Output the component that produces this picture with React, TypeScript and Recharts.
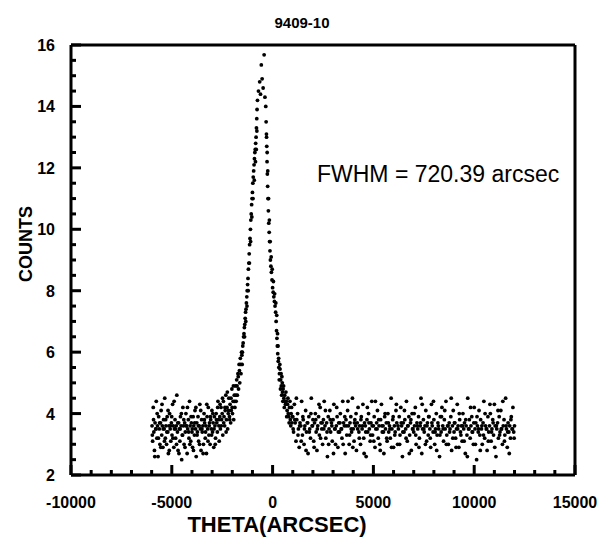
import React from 'react';
import { ScatterChart, Scatter, XAxis, YAxis, ReferenceLine } from 'recharts';

const chartTitle = '9409-10';
const fwhmNote = 'FWHM = 720.39 arcsec';
const xLabel = 'THETA(ARCSEC)';
const yLabel = 'COUNTS';
const xMajorTicks = [-10000, -5000, 0, 5000, 10000, 15000];
const yMajorTicks = [2, 4, 6, 8, 10, 12, 14, 16];
const xMinorTicks = [-9000, -8000, -7000, -6000, -4000, -3000, -2000, -1000, 1000, 2000, 3000, 4000, 6000, 7000, 8000, 9000, 11000, 12000, 13000, 14000];
const yMinorTicks = [2.5, 3, 3.5, 4.5, 5, 5.5, 6.5, 7, 7.5, 8.5, 9, 9.5, 10.5, 11, 11.5, 12.5, 13, 13.5, 14.5, 15, 15.5];

const leftWing: [number, number][] = [
  [-5980, 3.6], [-5950, 3.1], [-5920, 4.2], [-5890, 3.4], [-5860, 2.8], [-5830, 3.7], [-5800, 3.5], [-5770, 4.4], [-5740, 3.2], [-5710, 3.6],
  [-5680, 2.6], [-5650, 3.9], [-5620, 3.5], [-5590, 3.0], [-5560, 3.7], [-5530, 4.1], [-5500, 3.3], [-5470, 3.6], [-5440, 2.9], [-5410, 3.8],
  [-5380, 3.5], [-5350, 4.5], [-5320, 3.2], [-5290, 3.6], [-5260, 3.0], [-5230, 3.9], [-5200, 3.4], [-5170, 2.7], [-5140, 3.6], [-5110, 4.0],
  [-5080, 3.5], [-5050, 3.1], [-5020, 3.7], [-4990, 3.3], [-4960, 4.3], [-4930, 3.6], [-4900, 2.9], [-4870, 3.5], [-4840, 3.8], [-4810, 3.2],
  [-4780, 3.6], [-4750, 4.6], [-4720, 3.4], [-4690, 2.8], [-4660, 3.7], [-4630, 3.5], [-4600, 3.1], [-4570, 3.9], [-4540, 3.6], [-4510, 2.5],
  [-4480, 3.3], [-4450, 4.2], [-4420, 3.6], [-4390, 3.0], [-4360, 3.7], [-4330, 3.4], [-4300, 4.0], [-4270, 3.6], [-4240, 2.7], [-4210, 3.5],
  [-4180, 3.8], [-4150, 3.2], [-4120, 4.4], [-4090, 3.6], [-4060, 3.1], [-4030, 3.7], [-4000, 3.4], [-3970, 2.9], [-3940, 3.9], [-3910, 3.6],
  [-3880, 3.3], [-3850, 4.1], [-3820, 3.5], [-3790, 2.6], [-3760, 3.7], [-3730, 3.4], [-3700, 3.9], [-3670, 3.1], [-3640, 3.6], [-3610, 4.3],
  [-3580, 3.5], [-3550, 2.8], [-3520, 3.8], [-3490, 3.4], [-3460, 3.6], [-3430, 3.0], [-3400, 4.0], [-3370, 3.7], [-3340, 3.2], [-3310, 3.6],
  [-3280, 2.7], [-3250, 3.9], [-3220, 3.5], [-3190, 4.2], [-3160, 3.3], [-3130, 3.7], [-3100, 3.0], [-3070, 3.8], [-3040, 3.5], [-3010, 4.1],
  [-2980, 3.4], [-2950, 3.7], [-2920, 2.9], [-2890, 3.9], [-2860, 3.6], [-2830, 3.2], [-2800, 4.0], [-2770, 3.7], [-2740, 3.4], [-2710, 4.4],
  [-2680, 3.8], [-2650, 3.1],
  [-5965, 3.3], [-5905, 3.8], [-5845, 2.6], [-5785, 3.5], [-5725, 4.0], [-5665, 3.2], [-5605, 3.7], [-5545, 2.9], [-5485, 4.3], [-5425, 3.5],
  [-5365, 3.1], [-5305, 3.8], [-5245, 3.4], [-5185, 4.1], [-5125, 2.8], [-5065, 3.6], [-5005, 3.9], [-4945, 3.2], [-4885, 4.4], [-4825, 3.5],
  [-4765, 3.0], [-4705, 3.7], [-4645, 2.7], [-4585, 3.5], [-4525, 4.0], [-4465, 3.3], [-4405, 3.8], [-4345, 2.9], [-4285, 3.6], [-4225, 4.2],
  [-4165, 3.4], [-4105, 3.0], [-4045, 3.9], [-3985, 3.5], [-3925, 2.8], [-3865, 3.7], [-3805, 4.2], [-3745, 3.3], [-3685, 3.6], [-3625, 3.0],
  [-3565, 4.1], [-3505, 3.5], [-3445, 2.7], [-3385, 3.8], [-3325, 3.4], [-3265, 4.3], [-3205, 3.1], [-3145, 3.6], [-3085, 3.9], [-3025, 3.3],
  [-2965, 4.0], [-2905, 3.5], [-2845, 3.0], [-2785, 3.8], [-2725, 4.2], [-2665, 3.6],
];

const shoulder: [number, number][] = [
  [-2620, 3.9], [-2590, 3.5], [-2560, 4.2], [-2530, 3.8], [-2500, 4.0], [-2470, 3.3], [-2440, 4.4], [-2410, 3.9], [-2380, 3.6], [-2350, 4.1],
  [-2320, 4.6], [-2290, 3.8], [-2260, 4.2], [-2230, 3.5], [-2200, 4.0], [-2170, 4.5], [-2140, 3.9], [-2110, 4.3], [-2080, 3.7], [-2050, 4.1],
  [-2020, 4.8], [-1990, 4.0], [-1960, 4.4], [-1930, 3.8], [-1900, 4.6], [-1870, 4.2], [-1840, 4.9], [-1810, 4.4], [-1780, 5.1], [-1750, 4.6],
  [-1720, 5.3], [-1690, 4.8], [-1660, 5.6], [-1630, 5.0], [-1600, 5.8], [-1570, 5.3], [-1540, 6.0], [-1510, 5.6],
  [-2605, 4.3], [-2545, 3.6], [-2485, 4.5], [-2425, 3.7], [-2365, 4.2], [-2305, 3.4], [-2245, 4.7], [-2185, 4.1], [-2125, 3.8], [-2065, 4.5],
  [-2005, 4.2], [-1945, 4.9], [-1885, 4.4], [-1825, 4.6], [-1765, 4.9], [-1705, 5.2], [-1645, 5.4], [-1585, 5.6], [-1525, 5.9],
];

const peak: [number, number][] = [
  [-1500, 6.0], [-1480, 6.2], [-1460, 6.3], [-1440, 6.5], [-1420, 6.6], [-1400, 6.8], [-1380, 6.9], [-1360, 7.1], [-1340, 7.3], [-1320, 7.4],
  [-1300, 7.6], [-1280, 7.8], [-1260, 8.0], [-1240, 8.2], [-1220, 8.4], [-1200, 8.7], [-1180, 8.9], [-1160, 9.2], [-1140, 9.5], [-1120, 9.7],
  [-1100, 10.0], [-1080, 10.3], [-1060, 10.5], [-1040, 10.8], [-1020, 11.0], [-1000, 11.2], [-980, 11.5], [-960, 11.7], [-940, 11.9], [-920, 12.1],
  [-900, 12.3], [-880, 12.5], [-860, 12.6], [-840, 12.8], [-820, 13.0], [-800, 13.3], [-785, 13.6], [-770, 13.9], [-750, 14.2],
  [-1390, 6.5], [-1330, 7.0], [-1270, 7.5], [-1210, 8.0], [-1150, 8.9], [-1090, 9.6], [-1030, 10.4], [-970, 11.0], [-910, 11.6], [-850, 12.2],
  [-810, 12.6], [-780, 13.2],
  [-700, 14.5], [-640, 14.8], [-600, 14.4], [-560, 15.35], [-520, 14.9], [-470, 14.6], [-420, 15.68], [-380, 14.3], [-340, 14.0],
  [-320, 13.5], [-305, 13.1], [-290, 12.7], [-275, 12.2], [-260, 11.8], [-245, 11.4], [-230, 11.0], [-210, 10.6], [-190, 10.2], [-170, 9.9],
  [-150, 9.6], [-130, 9.3], [-110, 9.0], [-85, 8.8], [-60, 8.6], [-30, 8.35], [0, 8.1], [30, 7.95], [60, 7.8], [90, 7.65],
  [120, 7.5], [150, 7.3], [175, 7.0], [195, 6.7], [215, 6.45], [235, 6.2], [255, 5.95], [280, 5.7], [310, 5.5], [340, 5.3],
  [-300, 13.0], [-270, 12.5], [-240, 11.9], [-200, 11.0], [-160, 10.3], [-120, 9.6], [-70, 9.1], [-20, 8.7], [40, 8.3], [100, 7.9],
  [160, 7.6], [205, 7.2], [245, 6.6], [270, 6.2],
  [370, 5.45], [400, 5.1], [430, 4.9], [460, 5.2], [490, 4.7], [520, 4.8], [560, 4.5], [600, 4.6], [640, 4.3], [680, 4.4],
  [720, 4.1], [760, 4.5], [800, 3.9], [840, 4.2], [880, 3.8], [920, 4.0], [960, 3.7],
  [300, 5.8], [330, 5.1], [360, 5.6], [390, 4.8], [420, 5.3], [450, 4.6], [480, 5.0], [510, 4.4], [545, 4.9], [580, 4.2],
  [620, 4.4], [660, 4.7], [700, 3.9], [740, 4.3], [780, 4.0], [820, 3.7], [860, 4.4], [900, 3.6], [940, 4.2], [980, 3.9],
];

const rightWing: [number, number][] = [
  [1000, 3.9], [1040, 3.4], [1080, 4.3], [1120, 3.7], [1160, 3.1], [1200, 3.8], [1240, 4.0], [1280, 3.5], [1320, 2.9], [1360, 3.7],
  [1400, 3.6], [1440, 4.4], [1480, 3.3], [1520, 3.8], [1560, 3.0], [1600, 3.6], [1640, 4.1], [1680, 3.4], [1720, 3.7], [1760, 2.7],
  [1800, 3.9], [1840, 3.5], [1880, 3.2], [1920, 4.5], [1960, 3.6], [2000, 3.8], [2040, 3.1], [2080, 3.7], [2120, 4.0], [2160, 3.4],
  [2200, 2.8], [2240, 3.6], [2280, 3.9], [2320, 3.3], [2360, 4.2], [2400, 3.7], [2440, 3.5], [2480, 3.0], [2520, 3.8], [2560, 4.4],
  [2600, 3.6], [2640, 3.2], [2680, 3.7], [2720, 2.6], [2760, 3.9], [2800, 3.5], [2840, 4.1], [2880, 3.4], [2920, 3.7], [2960, 3.1],
  [3000, 3.8], [3040, 4.3], [3080, 3.5], [3120, 3.0], [3160, 3.6], [3200, 3.9], [3240, 2.9], [3280, 3.7], [3320, 3.4], [3360, 4.0],
  [3400, 3.5], [3440, 3.2], [3480, 4.4], [3520, 3.7], [3560, 3.6], [3600, 2.7], [3640, 3.8], [3680, 3.3], [3720, 4.1], [3760, 3.6],
  [3800, 3.0], [3840, 3.7], [3880, 3.9], [3920, 3.4], [3960, 4.5], [4000, 3.5], [4040, 3.1], [4080, 3.8], [4120, 3.6], [4160, 2.8],
  [4200, 3.7], [4240, 4.2], [4280, 3.4], [4320, 3.6], [4360, 3.0], [4400, 3.9], [4440, 3.5], [4480, 4.3], [4520, 3.2], [4560, 3.7],
  [4600, 3.6], [4640, 2.6], [4680, 3.8], [4720, 3.4], [4760, 4.0], [4800, 3.5], [4840, 3.1], [4880, 3.7], [4920, 4.4], [4960, 3.3],
  [5000, 3.6], [5040, 3.9], [5080, 2.9], [5120, 3.5], [5160, 3.7], [5200, 4.1], [5240, 3.2], [5280, 3.6], [5320, 3.0], [5360, 3.8],
  [5400, 4.3], [5440, 3.4], [5480, 3.6], [5520, 2.7], [5560, 3.9], [5600, 3.5], [5640, 3.7], [5680, 3.1], [5720, 4.0], [5760, 3.4],
  [5800, 3.6], [5840, 3.2], [5880, 4.5], [5920, 3.5], [5960, 3.8], [6000, 2.9], [6040, 3.6], [6080, 3.4], [6120, 4.1], [6160, 3.7],
  [6200, 3.0], [6240, 3.5], [6280, 3.9], [6320, 3.3], [6360, 4.2], [6400, 3.6], [6440, 2.6], [6480, 3.7], [6520, 3.4], [6560, 3.8],
  [6600, 3.5], [6640, 4.4], [6680, 3.1], [6720, 3.6], [6760, 3.9], [6800, 3.3], [6840, 3.7], [6880, 2.8], [6920, 4.0], [6960, 3.5],
  [7000, 3.4], [7040, 3.6], [7080, 4.2], [7120, 3.0], [7160, 3.7], [7200, 3.5], [7240, 3.9], [7280, 3.2], [7320, 3.6], [7360, 4.5],
  [7400, 2.7], [7440, 3.5], [7480, 3.8], [7520, 3.4], [7560, 3.6], [7600, 4.1], [7640, 3.1], [7680, 3.7], [7720, 3.3], [7760, 3.9],
  [7800, 3.5], [7840, 2.9], [7880, 4.3], [7920, 3.6], [7960, 3.4], [8000, 3.8], [8040, 3.0], [8080, 3.5], [8120, 4.0], [8160, 3.3],
  [8200, 3.7], [8240, 3.5], [8280, 2.6], [8320, 3.9], [8360, 3.4], [8400, 4.2], [8440, 3.6], [8480, 3.1], [8520, 3.8], [8560, 3.5],
  [8600, 4.4], [8640, 3.3], [8680, 3.6], [8720, 3.0], [8760, 3.7], [8800, 3.5], [8840, 3.9], [8880, 2.8], [8920, 3.6], [8960, 4.1],
  [9000, 3.4], [9040, 3.7], [9080, 3.2], [9120, 3.5], [9160, 4.3], [9200, 3.6], [9240, 2.9], [9280, 3.8], [9320, 3.4], [9360, 3.6],
  [9400, 3.1], [9440, 4.0], [9480, 3.5], [9520, 3.7], [9560, 2.7], [9600, 3.6], [9640, 3.3], [9680, 4.5], [9720, 3.5], [9760, 3.8],
  [9800, 3.2], [9840, 3.6], [9880, 3.9], [9920, 3.4], [9960, 3.0], [10000, 4.2], [10040, 3.5], [10080, 3.7], [10120, 2.5], [10160, 3.6],
  [10200, 3.4], [10240, 4.1], [10280, 3.3], [10320, 3.8], [10360, 3.5], [10400, 3.0], [10440, 3.7], [10480, 4.4], [10520, 3.2], [10560, 3.6],
  [10600, 3.5], [10640, 2.8], [10680, 3.9], [10720, 3.4], [10760, 3.6], [10800, 4.0], [10840, 3.1], [10880, 3.5], [10920, 3.8], [10960, 3.3],
  [11000, 4.3], [11040, 3.6], [11080, 2.6], [11120, 3.5], [11160, 3.7], [11200, 3.2], [11240, 3.9], [11280, 3.4], [11320, 4.1], [11360, 3.5],
  [11400, 3.0], [11440, 3.6], [11480, 3.8], [11520, 3.3], [11560, 4.5], [11600, 3.5], [11640, 2.9], [11680, 3.7], [11720, 3.4], [11760, 3.6],
  [11800, 3.2], [11840, 3.9], [11880, 3.5], [11920, 4.2], [11960, 3.4], [12000, 3.6],
  [1020, 3.5], [1100, 3.8], [1180, 4.5], [1260, 3.3], [1340, 3.6], [1420, 3.1], [1500, 3.9], [1580, 3.5], [1660, 2.8], [1740, 3.7],
  [1820, 3.4], [1900, 4.0], [1980, 3.6], [2060, 2.9], [2140, 3.8], [2220, 3.5], [2300, 4.3], [2380, 3.2], [2460, 3.7], [2540, 3.5],
  [2620, 4.1], [2700, 3.4], [2780, 3.0], [2860, 3.8], [2940, 3.6], [3020, 2.7], [3100, 3.5], [3180, 4.2], [3260, 3.4], [3340, 3.7],
  [3420, 3.5], [3500, 3.0], [3580, 3.9], [3660, 3.6], [3740, 4.4], [3820, 3.3], [3900, 3.5], [3980, 2.9], [4060, 3.7], [4140, 4.0],
  [4220, 3.5], [4300, 3.2], [4380, 3.8], [4460, 3.6], [4540, 2.7], [4620, 3.4], [4700, 4.2], [4780, 3.7], [4860, 3.3], [4940, 3.6],
  [5020, 3.1], [5100, 4.4], [5180, 3.5], [5260, 3.8], [5340, 2.8], [5420, 3.6], [5500, 3.4], [5580, 4.0], [5660, 3.2], [5740, 3.7],
  [5820, 3.5], [5900, 2.9], [5980, 3.9], [6060, 3.3], [6140, 4.3], [6220, 3.6], [6300, 3.0], [6380, 3.7], [6460, 3.4], [6540, 4.1],
  [6620, 3.2], [6700, 3.6], [6780, 2.7], [6860, 3.8], [6940, 3.5], [7020, 4.0], [7100, 3.3], [7180, 3.6], [7260, 2.9], [7340, 3.7],
  [7420, 4.3], [7500, 3.5], [7580, 3.0], [7660, 3.6], [7740, 3.9], [7820, 3.2], [7900, 3.7], [7980, 4.4], [8060, 3.4], [8140, 2.8],
  [8220, 3.6], [8300, 3.3], [8380, 3.9], [8460, 3.5], [8540, 4.1], [8620, 3.0], [8700, 3.6], [8780, 3.4], [8860, 4.5], [8940, 3.2],
  [9020, 3.7], [9100, 2.9], [9180, 3.5], [9260, 4.0], [9340, 3.3], [9420, 3.6], [9500, 3.1], [9580, 3.8], [9660, 2.6], [9740, 3.5],
  [9820, 4.2], [9900, 3.4], [9980, 3.7], [10060, 3.0], [10140, 3.9], [10220, 3.5], [10300, 2.8], [10380, 3.6], [10460, 3.3], [10540, 4.0],
  [10620, 3.5], [10700, 3.1], [10780, 4.3], [10860, 3.4], [10940, 3.7], [11020, 2.9], [11100, 3.6], [11180, 4.1], [11260, 3.3], [11340, 3.5],
  [11420, 4.4], [11500, 3.1], [11580, 3.6], [11660, 3.4], [11740, 2.7], [11820, 3.8], [11900, 3.5], [11980, 3.2],
];

const points = [...leftWing, ...shoulder, ...peak, ...rightWing].map(([theta, counts]) => ({ theta, counts }));

// anchor points for the inward tick marks, placed on the axes through the chart's scales
const xMajorMarks = xMajorTicks.map((theta) => ({ theta, counts: 2 }));
const xMinorMarks = xMinorTicks.map((theta) => ({ theta, counts: 2 }));
const yMajorMarks = yMajorTicks.map((counts) => ({ theta: -10000, counts }));
const yMinorMarks = yMinorTicks.map((counts) => ({ theta: -10000, counts }));

const FONT = '"Liberation Sans", Arial, Helvetica, sans-serif';

const XLabelTick = (props: any) => {
  const { x, y, payload } = props;
  return (
    <text x={x} y={y + 33} textAnchor="middle" fontFamily={FONT} fontWeight="bold" fontSize={16} fill="#000">
      {String(payload.value)}
    </text>
  );
};

const YLabelTick = (props: any) => {
  const { x, y, payload } = props;
  return (
    <text x={x - 16} y={y + 6} textAnchor="end" fontFamily={FONT} fontWeight="bold" fontSize={16} fill="#000">
      {String(payload.value)}
    </text>
  );
};

const Dot = (props: any) => <circle cx={props.cx} cy={props.cy} r={1.9} fill="#000" />;
const XMajorMark = (props: any) => <rect x={props.cx - 1.5} y={props.cy - 10} width={3} height={10} fill="#000" />;
const XMinorMark = (props: any) => <rect x={props.cx - 1.5} y={props.cy - 5} width={3} height={5} fill="#000" />;
const YMajorMark = (props: any) => <rect x={props.cx} y={props.cy - 1.5} width={10} height={3} fill="#000" />;
const YMinorMark = (props: any) => <rect x={props.cx} y={props.cy - 1.5} width={5} height={3} fill="#000" />;

export default function App() {
  return (
    <div style={{ position: 'absolute', left: 0, top: 0, width: 600, height: 542, background: '#fff' }}>
      <ScatterChart width={600} height={542} margin={{ top: 45, right: 25, bottom: 37, left: 0 }}>
        <XAxis
          type="number"
          dataKey="theta"
          domain={[-10000, 15000]}
          ticks={xMajorTicks}
          interval={0}
          height={30}
          tick={<XLabelTick />}
          tickSize={0}
          tickMargin={0}
          tickLine={false}
          axisLine={false}
        />
        <YAxis
          type="number"
          dataKey="counts"
          domain={[2, 16]}
          ticks={yMajorTicks}
          interval={0}
          width={71}
          tick={<YLabelTick />}
          tickSize={0}
          tickMargin={0}
          tickLine={false}
          axisLine={false}
        />
        <ReferenceLine y={2} stroke="#000" strokeWidth={3} ifOverflow="visible" />
        <ReferenceLine y={16} stroke="#000" strokeWidth={3} ifOverflow="visible" />
        <ReferenceLine x={-10000} stroke="#000" strokeWidth={3} ifOverflow="visible" />
        <ReferenceLine x={15000} stroke="#000" strokeWidth={3} ifOverflow="visible" />
        <Scatter data={xMajorMarks} shape={<XMajorMark />} isAnimationActive={false} />
        <Scatter data={xMinorMarks} shape={<XMinorMark />} isAnimationActive={false} />
        <Scatter data={yMajorMarks} shape={<YMajorMark />} isAnimationActive={false} />
        <Scatter data={yMinorMarks} shape={<YMinorMark />} isAnimationActive={false} />
        <Scatter data={points} shape={<Dot />} isAnimationActive={false} />
      </ScatterChart>
      <svg width={600} height={542} style={{ position: 'absolute', left: 0, top: 0, pointerEvents: 'none' }}>
        <text x={302} y={28} textAnchor="middle" fontFamily={FONT} fontWeight="bold" fontSize={15} fill="#000">{chartTitle}</text>
        <text x={317} y={182} fontFamily={FONT} fontSize={23} fill="#000">{fwhmNote}</text>
        <text x={277} y={532} textAnchor="middle" fontFamily={FONT} fontWeight="bold" fontSize={22} fill="#000">{xLabel}</text>
        <text x={0} y={0} transform="translate(32,244) rotate(-90)" textAnchor="middle" fontFamily={FONT} fontWeight="bold" fontSize={18} fill="#000">{yLabel}</text>
      </svg>
    </div>
  );
}
